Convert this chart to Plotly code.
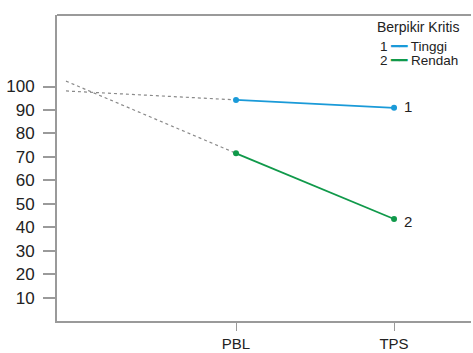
import plotly.graph_objects as go

categories = ["PBL", "TPS"]
cat_pos = [1, 2]
tinggi = [94.3, 90.9]
rendah = [71.5, 43.5]
start_pos = -0.076
tinggi_start = 98.1
rendah_start = 102.3
y_ticks = [10, 20, 30, 40, 50, 60, 70, 80, 90, 100]

blue = "#1a9ad8"
green = "#10994a"
axis_col = "#9a9a9a"
font = "Liberation Sans, Arial, sans-serif"

fig = go.Figure()
# dotted extrapolations
fig.add_trace(go.Scatter(x=[start_pos, cat_pos[0]], y=[tinggi_start, tinggi[0]], mode="lines",
                         line=dict(color="#8a8a8a", width=1.2, dash="dot"), showlegend=False, hoverinfo="skip"))
fig.add_trace(go.Scatter(x=[start_pos, cat_pos[0]], y=[rendah_start, rendah[0]], mode="lines",
                         line=dict(color="#8a8a8a", width=1.2, dash="dot"), showlegend=False, hoverinfo="skip"))
fig.add_trace(go.Scatter(x=cat_pos, y=tinggi, mode="lines+markers", name="Tinggi",
                         line=dict(color=blue, width=1.8), marker=dict(size=6, color=blue), showlegend=False))
fig.add_trace(go.Scatter(x=cat_pos, y=rendah, mode="lines+markers", name="Rendah",
                         line=dict(color=green, width=1.8), marker=dict(size=6, color=green), showlegend=False))

# end labels
fig.add_annotation(x=cat_pos[1], y=tinggi[1], text="1", showarrow=False, xanchor="left", xshift=8, yshift=1,
                   font=dict(size=15, color="#222", family=font))
fig.add_annotation(x=cat_pos[1], y=rendah[1], text="2", showarrow=False, xanchor="left", xshift=8, yshift=-2,
                   font=dict(size=15, color="#222", family=font))

# legend
fig.add_annotation(xref="paper", yref="paper", x=0.770, y=0.962, text="Berpikir Kritis", showarrow=False,
                   xanchor="left", yanchor="middle", borderpad=0, font=dict(size=14, color="#222", family=font))
fig.add_annotation(xref="paper", yref="paper", x=0.778, y=0.897,
                   text=f"1 <span style='color:{blue}'>━━</span> Tinggi", showarrow=False, borderpad=0,
                   xanchor="left", yanchor="middle", font=dict(size=13.5, color="#222", family=font))
fig.add_annotation(xref="paper", yref="paper", x=0.778, y=0.851,
                   text=f"2 <span style='color:{green}'>━━</span> Rendah", showarrow=False, borderpad=0,
                   xanchor="left", yanchor="middle", font=dict(size=13.5, color="#222", family=font))

# top frame line
fig.add_shape(type="line", xref="paper", yref="paper", x0=0, x1=1, y0=1, y1=1,
              line=dict(color=axis_col, width=2))

fig.update_layout(
    template="none",
    width=473, height=353,
    margin=dict(l=57, r=2, t=15, b=32),
    paper_bgcolor="white", plot_bgcolor="white",
    font=dict(family=font, color="#222"),
    xaxis=dict(range=[-0.133, 2.487], tickvals=cat_pos, ticktext=categories, showgrid=False, zeroline=False,
               showline=True, linecolor=axis_col, linewidth=2, mirror=False, ticks="outside", ticklen=8,
               tickcolor=axis_col, tickwidth=1, tickfont=dict(size=15, color="#222")),
    yaxis=dict(range=[0, 130.5], tickvals=y_ticks, showgrid=False, zeroline=False, mirror=False,
               showline=True, linecolor=axis_col, linewidth=2, ticks="outside", ticklen=12,
               tickcolor=axis_col, tickwidth=2, ticklabelstandoff=5, tickfont=dict(size=17, color="#222")),
)
fig.write_html("out.html", config={"displayModeBar": False},
               post_script="document.body.style.margin='0';document.body.style.padding='0';"
                           "document.body.style.overflow='hidden';document.documentElement.style.overflow='hidden';")
